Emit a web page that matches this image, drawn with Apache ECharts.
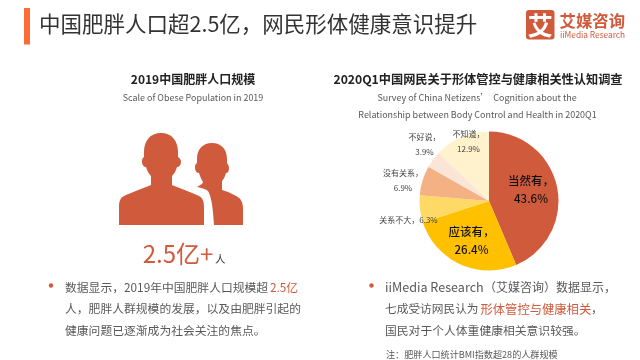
<!DOCTYPE html>
<html><head><meta charset="utf-8">
<style>html,body{margin:0;padding:0;background:#fff}#c{width:640px;height:360px}</style>
<script src="https://cdn.jsdelivr.net/npm/echarts@6/dist/echarts.min.js"></script>
</head><body><div id="c"></div>
<script>
const categories=['当然有','应该有','关系不大','没有关系','不好说','不知道'];
const values=[43.6,26.4,6.3,6.9,3.9,12.9];
const colors=['#D05A3C','#FFC000','#FFD966','#F4B183','#FBE5D6','#FFF2CC'];
const FONT='"Noto Sans CJK SC","Noto Sans",sans-serif';
const RED='#D05A3C', ORANGE='#FF6B35', DARK='#333', GREY='#595959';
function t(x,y,text,size,fill,extra){return {type:'text',x,y,style:Object.assign({text,fontSize:size,fontFamily:FONT,fill,textVerticalAlign:'middle'},extra||{})};}
function c(x,y,text,size,fill,extra){return t(x,y,text,size,fill,Object.assign({textAlign:'center'},extra||{}));}
const ICON_BIG='M161 133C150 133 144 141 144 152C144 154 144 155 144 157C142 158 142 160 142 162C142 165 144 167 146 167C147 171 149 174 151 176L151 185C144 188 130 193 124 196C120 198 119 202 119 207L119 225L204 225L204 207C204 202 203 198 199 196C193 193 179 188 172 185L172 176C174 174 176 171 177 167C179 167 181 165 181 162C181 160 180 158 178 157C178 155 178 154 178 152C178 141 172 133 161 133Z';
const ICON_SMALL='M212 143C203 143 197 149 197 159C197 160 197 161 197 163C195 164 195 166 195 168C195 171 197 173 199 173C200 176 201 179 203 182C203 184 200 185 197 187C202 188 206 189 208 191C212 198 213 210 214 225L243 225L243 208C243 203 241 198 236 196C231 193 226 191 222 190L222 181C224 179 225 176 226 173C228 173 229 171 229 168C229 166 228 164 227 163C227 161 227 160 227 159C227 149 221 143 212 143Z';
const elements=[
 {type:'rect',shape:{x:24,y:8,width:6,height:36.5},style:{fill:ORANGE}},
 t(39,24,'中国肥胖人口超2.5亿，网民形体健康意识提升',21.5,'#333'),
 {type:'rect',shape:{x:526,y:10,width:28.5,height:29.5,r:3},style:{fill:RED}},
 c(540.2,25,'艾',25,'#fff',{fontWeight:'bold'}),
 t(559.5,20.5,'艾媒咨询',16.4,RED,{fontWeight:'bold'}),
 t(560,34.5,'iiMedia Research',8.3,RED),
 c(193,79.5,'2019中国肥胖人口规模',12,'#222',{fontWeight:'bold'}),
 c(193,98,'Scale of Obese Population in 2019',8.95,GREY),
 c(178,254,'2.5亿+',24,RED),
 t(215,259,'人',10.5,DARK),
 {type:'circle',shape:{cx:51,cy:285.5,r:2.2},style:{fill:RED}},
 t(65,287.5,'数据显示，2019年中国肥胖人口规模超',11.8,GREY),
 t(270,287.5,'2.5亿',11.8,RED),
 t(65,309,'人，肥胖人群规模的发展，以及由肥胖引起的',11.8,GREY),
 t(65,331,'健康问题已逐渐成为社会关注的焦点。',11.8,GREY),
 c(478,79.5,'2020Q1中国网民关于形体管控与健康相关性认知调查',12.2,'#222',{fontWeight:'bold'}),
 c(477,98,'Survey of China Netizens’  Cognition about the',8.95,GREY),
 c(477.5,115,'Relationship between Body Control and Health in 2020Q1',8.95,GREY),
 {type:'circle',shape:{cx:371.5,cy:285.5,r:2.2},style:{fill:RED}},
 t(385,287.5,'iiMedia Research',12.6,GREY),
 t(484,287.5,'（艾媒咨询）数据显示，',12,GREY),
 t(385,309,'七成受访网民认为',11.7,GREY),
 t(480.5,309,'形体管控与健康相关',12.3,RED),
 t(591,309,'，',11.8,GREY),
 t(385,331,'国民对于个人体重健康相关意识较强。',11.8,GREY),
 t(386,355,'注：肥胖人口统计BMI指数超28的人群规模',9.1,GREY),
];
const labelCfg=[
 {size:11.5,fw:500,x:531,y:190,col:'#111',lh:18},
 {size:11.5,fw:500,x:471.5,y:241,col:'#111',lh:18},
 {size:8,fw:'normal',x:408.5,y:219.5,col:'#444',lh:15,one:true},
 {size:8,fw:'normal',x:403,y:180.5,col:'#444',lh:15},
 {size:8,fw:'normal',x:424.5,y:144.5,col:'#444',lh:15},
 {size:8,fw:'normal',x:468.5,y:141.5,col:'#444',lh:15},
];
const data=categories.map((n,i)=>({name:n,value:values[i],itemStyle:{color:colors[i]}}));
labelCfg.forEach((l,i)=>{
 const s=l.one?categories[i]+'，'+values[i]+'%':categories[i]+'，\n'+values[i]+'%';
 elements.push({type:'text',x:l.x,y:l.y,z:10,style:{text:s,fontSize:l.size,fontFamily:FONT,fontWeight:l.fw,fill:l.col,textAlign:'center',textVerticalAlign:'middle',lineHeight:l.lh}});
});
const chart=echarts.init(document.getElementById('c'),null,{renderer:'canvas'});
chart.setOption({animation:false,
 series:[
  {type:'pie',center:[489,201],radius:[0,69.5],startAngle:90,clockwise:true,data,label:{show:false},labelLine:{show:false},silent:true,itemStyle:{borderWidth:0}},
  {type:'custom',coordinateSystem:'none',silent:true,data:[0],renderItem:()=>({type:'group',children:[
    {type:'path',shape:{pathData:ICON_SMALL,x:195,y:143,width:48,height:82},style:{fill:RED}},
    {type:'path',shape:{pathData:ICON_BIG,x:119,y:133,width:85,height:92},style:{fill:RED}}
  ]})}
 ],
 graphic:{elements}
});
</script></body></html>
